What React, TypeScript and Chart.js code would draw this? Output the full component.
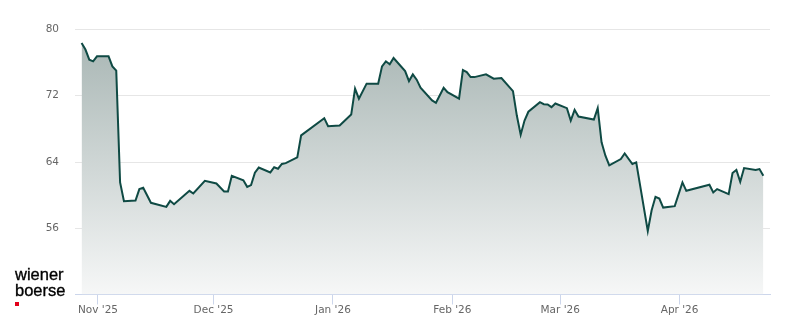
import React, { useEffect, useRef } from "react";
import { Chart, registerables } from "chart.js";

Chart.register(...registerables);

// Trading dates and closing prices
const DATES: string[] = [
  "2025-10-27", "2025-10-28", "2025-10-29", "2025-10-30", "2025-10-31",
  "2025-11-03", "2025-11-04", "2025-11-05", "2025-11-06", "2025-11-07",
  "2025-11-10", "2025-11-11", "2025-11-12", "2025-11-14", "2025-11-18",
  "2025-11-19", "2025-11-20", "2025-11-24", "2025-11-25", "2025-11-28",
  "2025-12-01", "2025-12-03", "2025-12-04", "2025-12-05", "2025-12-08",
  "2025-12-09", "2025-12-10", "2025-12-11", "2025-12-12", "2025-12-15",
  "2025-12-16", "2025-12-17", "2025-12-18", "2025-12-19", "2025-12-22",
  "2025-12-23", "2025-12-29", "2025-12-30", "2026-01-02", "2026-01-05",
  "2026-01-06", "2026-01-07", "2026-01-09", "2026-01-12", "2026-01-13",
  "2026-01-14", "2026-01-15", "2026-01-16", "2026-01-19", "2026-01-20",
  "2026-01-21", "2026-01-22", "2026-01-23", "2026-01-26", "2026-01-27",
  "2026-01-29", "2026-01-30", "2026-02-02", "2026-02-03", "2026-02-04",
  "2026-02-05", "2026-02-06", "2026-02-09", "2026-02-11", "2026-02-13",
  "2026-02-16", "2026-02-17", "2026-02-18", "2026-02-19", "2026-02-20",
  "2026-02-23", "2026-02-24", "2026-02-25", "2026-02-26", "2026-02-27",
  "2026-03-02", "2026-03-03", "2026-03-04", "2026-03-05", "2026-03-09",
  "2026-03-10", "2026-03-11", "2026-03-12", "2026-03-13", "2026-03-16",
  "2026-03-17", "2026-03-19", "2026-03-20", "2026-03-23", "2026-03-24",
  "2026-03-25", "2026-03-26", "2026-03-27", "2026-03-30", "2026-04-01",
  "2026-04-02", "2026-04-08", "2026-04-09", "2026-04-10", "2026-04-13",
  "2026-04-14", "2026-04-15", "2026-04-16", "2026-04-17", "2026-04-20",
  "2026-04-21", "2026-04-22",
];

const CLOSES: number[] = [
  78.38, 77.58, 76.36, 76.16, 76.76,
  76.76, 75.55, 75.03, 61.53, 59.27,
  59.35, 60.73, 60.89, 59.07, 58.58,
  59.31, 58.91, 60.52, 60.2, 61.73,
  61.41, 60.44, 60.44, 62.34, 61.8,
  61.0, 61.21, 62.7, 63.33, 62.74,
  63.37, 63.19, 63.76, 63.86, 64.56,
  67.22, 69.29, 68.32, 68.4, 69.73,
  72.85, 71.64, 73.46, 73.46, 75.55,
  76.16, 75.79, 76.56, 74.98, 73.77,
  74.58, 73.94, 72.97, 71.43, 71.15,
  72.97, 72.44, 71.64, 75.1, 74.86,
  74.25, 74.25, 74.58, 74.06, 74.13,
  72.56, 69.61, 67.29, 69.01, 70.07,
  71.22, 70.98, 70.95, 70.62, 71.07,
  70.5, 69.01, 70.3, 69.49, 69.13,
  70.5, 66.38, 64.76, 63.59, 64.36,
  65.04, 63.76, 63.95, 55.67, 58.18,
  59.8, 59.59, 58.5, 58.67, 61.53,
  60.52, 61.25, 60.32, 60.73, 60.12,
  62.67, 63.03, 61.61, 63.27, 63.03,
  63.15, 62.34,
];

const TICK_DATES: string[] = ["2025-11-01", "2025-12-01", "2026-01-01", "2026-02-01", "2026-03-01", "2026-04-01"];
const TICK_LABELS: string[] = ["Nov '25", "Dec '25", "Jan '26", "Feb '26", "Mar '26", "Apr '26"];
const Y_TICKS: number[] = [48, 56, 64, 72, 80];

const AXIS_START = "2025-10-26";
const AXIS_END = "2026-04-24";
const CLOSE_TIME = 0.74; // fraction of a day (market close)

const BASE = Date.UTC(2025, 10, 1);
const toDay = (s: string): number => {
  const [y, m, d] = s.split("-").map(Number);
  return (Date.UTC(y, m - 1, d) - BASE) / 86400000;
};

export default function App() {
  const ref = useRef<HTMLCanvasElement | null>(null);

  useEffect(() => {
    document.body.style.margin = "0";
    const canvas = ref.current;
    if (!canvas) return;
    const points = DATES.map((d, i) => ({ x: toDay(d) + CLOSE_TIME, y: CLOSES[i] }));
    const tickVals = TICK_DATES.map(toDay);
    const font = { family: "'DejaVu Sans', sans-serif", size: 10.5 };

    const chart = new Chart(canvas, {
      type: "line",
      data: {
        datasets: [
          {
            data: points,
            borderColor: "#0f4a44",
            borderWidth: 2,
            pointRadius: 0,
            tension: 0,
            fill: "start",
            backgroundColor: (ctx: any) => {
              const ca = ctx.chart.chartArea;
              if (!ca) return "rgba(168,181,179,0.5)";
              const g = ctx.chart.ctx.createLinearGradient(0, ca.top, 0, ca.bottom);
              g.addColorStop(0, "#a6b4b2");
              g.addColorStop(1, "#f6f7f7");
              return g;
            },
          },
        ],
      },
      options: {
        responsive: false,
        animation: false,
        devicePixelRatio: 1,
        layout: { padding: { left: 0, right: 30, top: 29.5, bottom: 0 } },
        plugins: { legend: { display: false }, tooltip: { enabled: false } },
        scales: {
          x: {
            type: "linear",
            min: toDay(AXIS_START) + 0.03,
            max: toDay(AXIS_END) + 0.47,
            afterBuildTicks: (scale: any) => {
              scale.ticks = tickVals.map((v) => ({ value: v }));
            },
            afterFit: (scale: any) => {
              scale.height = 29.5;
            },
            grid: {
              display: true,
              drawOnChartArea: false,
              drawTicks: true,
              tickLength: 10,
              color: "#ccd6eb",
              lineWidth: 1,
            },
            border: { display: true, color: "#ccd6eb", width: 1 },
            ticks: {
              autoSkip: false,
              maxRotation: 0,
              padding: -1,
              color: "#666666",
              font,
              callback: (_v: any, i: number) => TICK_LABELS[i],
            },
          },
          y: {
            min: Y_TICKS[0],
            max: Y_TICKS[Y_TICKS.length - 1],
            afterBuildTicks: (scale: any) => {
              scale.ticks = Y_TICKS.map((v) => ({ value: v }));
            },
            afterFit: (scale: any) => {
              scale.width = 75;
            },
            grid: {
              drawTicks: false,
              color: (ctx: any) => (ctx.tick && ctx.tick.value === Y_TICKS[0] ? "rgba(0,0,0,0)" : "#e6e6e6"),
              lineWidth: 1,
            },
            border: { display: false },
            ticks: {
              padding: 16,
              color: "#666666",
              font,
              callback: (v: any) => (v === Y_TICKS[0] ? "" : String(v)),
            },
          },
        },
      },
    });
    return () => chart.destroy();
  }, []);

  return (
    <div style={{ position: "relative", width: 800, height: 324, background: "#ffffff", overflow: "hidden" }}>
      <canvas ref={ref} width={800} height={324} style={{ display: "block" }} />
      <div
        style={{
          position: "absolute",
          left: 15,
          top: 267.2,
          fontFamily: "'Liberation Sans', Arial, sans-serif",
          fontSize: 16.5,
          lineHeight: "15.7px",
          color: "#000000",
          WebkitTextStroke: "0.35px #000000",
        }}
      >
        <div>wiener</div>
        <div>boerse</div>
      </div>
      <div style={{ position: "absolute", left: 15, top: 301.7, width: 4, height: 4, background: "#e2001a" }} />
    </div>
  );
}
